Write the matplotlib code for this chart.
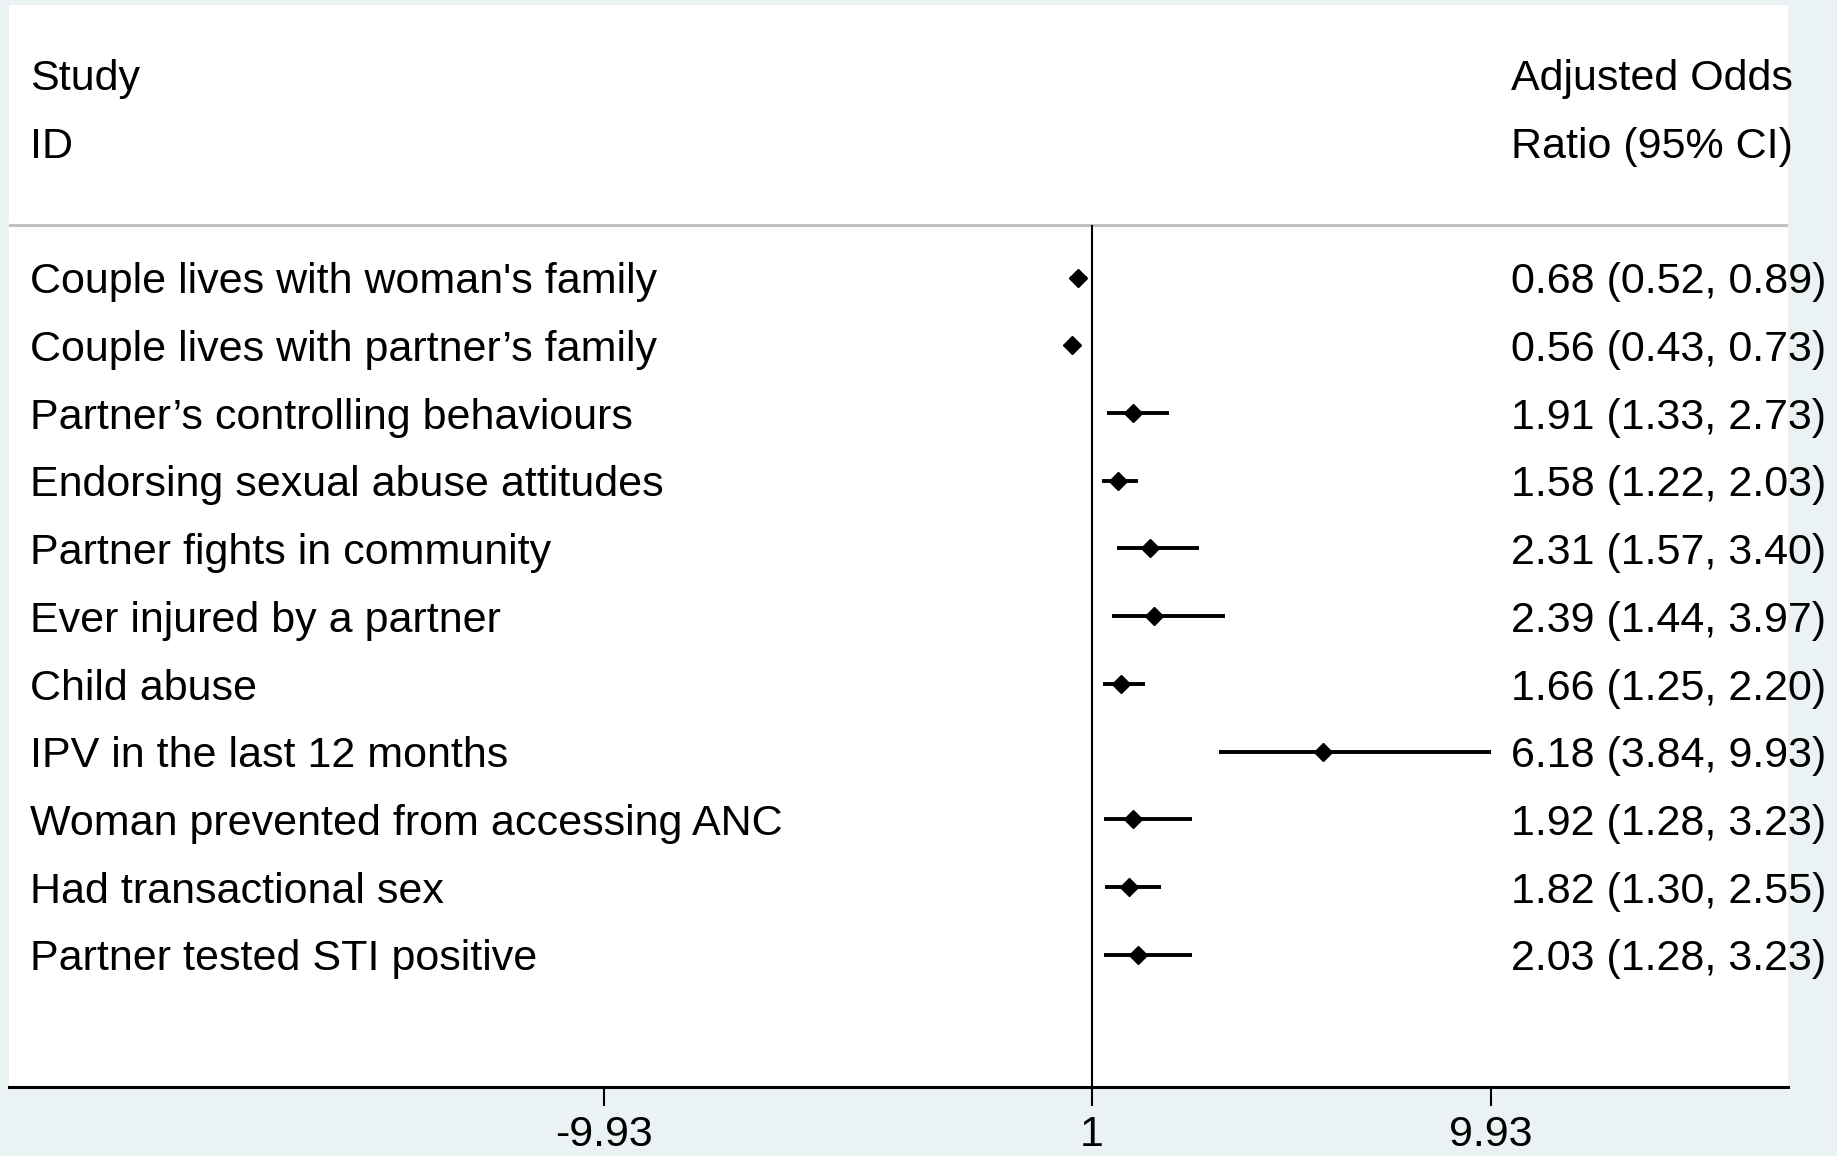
import matplotlib
matplotlib.use("Agg")
import matplotlib.pyplot as plt

# ---- data ----
labels = [
    "Couple lives with woman's family",
    "Couple lives with partner\u2019s family",
    "Partner\u2019s controlling behaviours",
    "Endorsing sexual abuse attitudes",
    "Partner fights in community",
    "Ever injured by a partner",
    "Child abuse",
    "IPV in the last 12 months",
    "Woman prevented from accessing ANC",
    "Had transactional sex",
    "Partner tested STI positive",
]
aor = [0.68, 0.56, 1.91, 1.58, 2.31, 2.39, 1.66, 6.18, 1.92, 1.82, 2.03]
ci_lo = [0.52, 0.43, 1.33, 1.22, 1.57, 1.44, 1.25, 3.84, 1.28, 1.30, 1.28]
ci_hi = [0.89, 0.73, 2.73, 2.03, 3.40, 3.97, 2.20, 9.93, 3.23, 2.55, 3.23]
xticks = [-9.93, 1, 9.93]
xtick_labels = ["-9.93", "1", "9.93"]
header_left = ["Study", "ID"]
header_right = ["Adjusted Odds", "Ratio (95% CI)"]

bg = "#EAF2F3"
plt.rcParams["font.family"] = ["Liberation Sans", "DejaVu Sans"]
fs = 31

fig = plt.figure(figsize=(18.37, 11.56), dpi=100, facecolor=bg)
ax = fig.add_axes([0.0051, 0.0597, 0.9682, 0.9362])
ax.set_facecolor("white")

rows = list(range(1, len(labels) + 1))
dy = 0.07  # small nudge so text sits level with the markers

# CI lines and point estimates
ax.hlines(rows, ci_lo, ci_hi, color="black", lw=2.8, zorder=3)
ax.plot(aor, rows, "D", color="black", markersize=9, zorder=4)

# null line
ax.vlines(1, 0.23, 12.96, color="black", lw=1.5, zorder=2)

# header separator
ax.axhline(0.23, color="#C0C0C0", lw=2.2, zorder=1)

tr = ax.get_yaxis_transform()
for i, h in enumerate(header_left):
    ax.text(0.0118, -2 + i + dy, h, transform=tr, fontsize=fs, va="center", ha="left")
for i, h in enumerate(header_right):
    ax.text(0.8443, -2 + i + dy, h, transform=tr, fontsize=fs, va="center", ha="left")

for r, lab, est, lo, hi in zip(rows, labels, aor, ci_lo, ci_hi):
    ax.text(0.0118, r + dy, lab, transform=tr, fontsize=fs, va="center", ha="left")
    ax.text(0.8443, r + dy, "{:.2f} ({:.2f}, {:.2f})".format(est, lo, hi),
            transform=tr, fontsize=fs, va="center", ha="left")

ax.set_xlim(-23.23, 16.58)
ax.set_ylim(12.955, -3.03)

for s in ["top", "right", "left"]:
    ax.spines[s].set_visible(False)
ax.spines["bottom"].set_linewidth(2.2)
ax.set_yticks([])
ax.set_xticks(xticks)
ax.set_xticklabels(xtick_labels, fontsize=fs)
ax.tick_params(axis="x", length=14, width=1.5, pad=6)

fig.savefig("out.png", dpi=100, facecolor=bg)
